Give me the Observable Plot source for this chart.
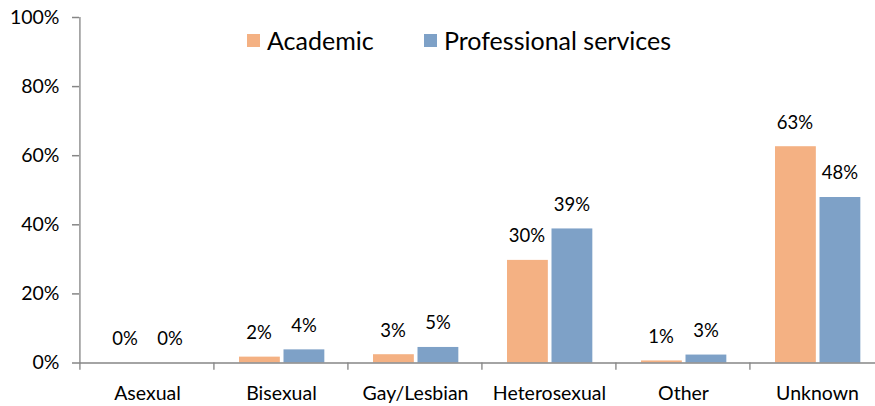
<!DOCTYPE html>
<html><head><meta charset="utf-8">
<script src="https://cdn.jsdelivr.net/npm/d3@7"></script>
<script src="https://cdn.jsdelivr.net/npm/@observablehq/plot@0.6"></script>
<style>
body{margin:0;background:#fff;overflow:hidden}
#chart{position:relative;width:875px;height:406px;font-family:Lato,sans-serif;overflow:hidden}
.leg{position:absolute;display:flex;align-items:center;font-size:25px;color:#000;white-space:nowrap;height:26px}
.sw{width:13px;height:13px;margin-right:7px}
</style></head><body>
<div id="chart"></div>
<script>
const categories = ["Asexual", "Bisexual", "Gay/Lesbian", "Heterosexual", "Other", "Unknown"];
const series = ["Academic", "Professional services"];
const academic = [0, 1.7, 2.4, 29.7, 0.6, 62.6];
const professional = [0, 3.8, 4.5, 38.8, 2.3, 47.9];
const academicLabels = ["0%", "2%", "3%", "30%", "1%", "63%"];
const professionalLabels = ["0%", "4%", "5%", "39%", "3%", "48%"];
const yTicks = [0, 20, 40, 60, 80, 100];
const colors = ["#F4B183", "#7EA1C7"];

const W = 875, H = 406, ML = 79, MR = -9;
const bw = (W - ML - MR) / categories.length;
const rows = categories.map((c, i) => ({
  category: c,
  academic: academic[i],
  professional: professional[i],
  la: academicLabels[i],
  lp: professionalLabels[i]
}));
const axisColor = "#868686";

const chart = Plot.plot({
  width: W, height: H,
  marginLeft: ML, marginRight: MR, marginTop: 17, marginBottom: 43.5,
  style: {fontFamily: "Lato, sans-serif", background: "#fff", color: "#000"},
  x: {domain: categories, padding: 0, axis: null, label: null},
  y: {domain: [0, 100], axis: null, label: null},
  marks: [
    Plot.barY(rows, {x: "category", y: "academic", fill: colors[0], insetLeft: 25, insetRight: bw - 66}),
    Plot.barY(rows, {x: "category", y: "professional", fill: colors[1], insetLeft: 69.5, insetRight: bw - 110.5}),
    Plot.text(rows, {x: "category", y: "academic", text: "la", dx: -22.5, dy: -24, fontSize: 18.5, fill: "#000"}),
    Plot.text(rows, {x: "category", y: "professional", text: "lp", dx: 22.5, dy: -24, fontSize: 18.5, fill: "#000"}),
    Plot.ruleY([0], {stroke: axisColor, strokeWidth: 1.5}),
    // left axis line and category boundary ticks (band left edges)
    Plot.barY([categories[0]], {x: d => d, y1: -2.1, y2: 100, fill: axisColor, insetLeft: -0.75, insetRight: bw - 0.75}),
    Plot.barY(categories.slice(1), {x: d => d, y1: -2.1, y2: 0, fill: axisColor, insetLeft: -0.75, insetRight: bw - 0.75}),
    Plot.axisY({ticks: yTicks, tickSize: 7, tickPadding: 13, tickFormat: d => d + "%", fontSize: 19.5, stroke: axisColor, strokeWidth: 1.5, fill: "#000", label: null}),
    Plot.axisX({tickSize: 0, tickPadding: 23, fontSize: 19.5, fill: "#000", label: null})
  ]
});
const root = document.getElementById("chart");
root.appendChild(chart);

const legendPos = [{left: 247, top: 27}, {left: 424, top: 27}];
series.forEach((s, i) => {
  const d = document.createElement("div");
  d.className = "leg";
  d.style.left = legendPos[i].left + "px";
  d.style.top = legendPos[i].top + "px";
  const sw = document.createElement("span");
  sw.className = "sw";
  sw.style.background = colors[i];
  d.appendChild(sw);
  d.appendChild(document.createTextNode(s));
  root.appendChild(d);
});
</script>
</body></html>
